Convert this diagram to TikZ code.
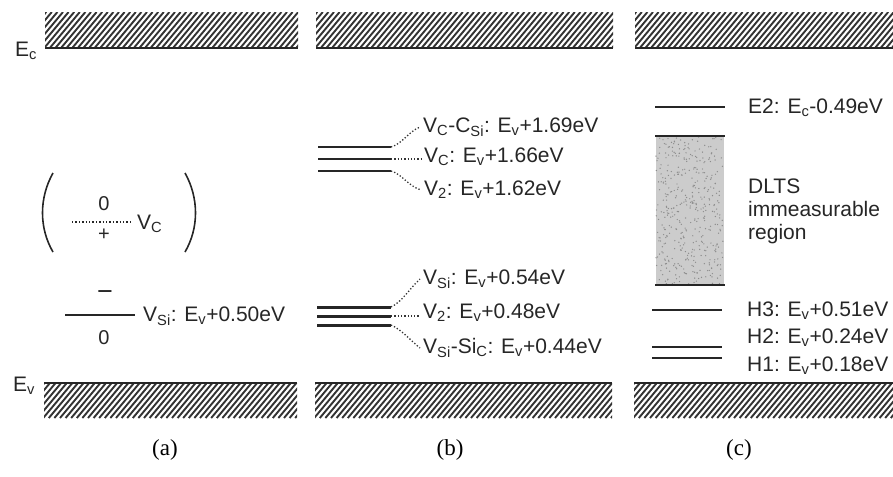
\documentclass[tikz,border=0pt]{standalone}
\usepackage{fontspec}
\setmainfont{Liberation Sans}
\newfontfamily\capfont{Liberation Serif}
\newcommand\myhatch[4]{%
  \begin{scope}
    \clip (#1,#2) rectangle (#3,#4);
    \foreach \k in {0,...,62} {\draw[hatchline] ({#1-40+\k*5.6},#4) -- ++(30,-36);}
  \end{scope}}
\begin{document}
\begin{tikzpicture}[x=1pt,y=-1pt,
  hatchline/.style={line width=1.9pt,black!80},
  edge/.style={line width=2.2pt,black!85},
  lbl/.style={font=\fontsize{21}{23}\selectfont,inner sep=0pt,anchor=west,black!85},
  sym/.style={font=\fontsize{20}{21}\selectfont,inner sep=0pt,black!85},
  captext/.style={font=\capfont\fontsize{23}{24}\selectfont,inner sep=0pt},
  lev/.style={line width=2.6pt,black!85},
  conn/.style={dotted,line width=1.3pt,black!80}]
\useasboundingbox (0,0) rectangle (893,476);
% ---- bands
\myhatch{45}{13}{298}{48}
\myhatch{316}{13}{613}{48}
\myhatch{635}{13}{893}{48}
\draw[edge] (45,48) -- (298,48);
\draw[edge] (316,48) -- (613,48);
\draw[edge] (635,48) -- (893,48);
\myhatch{44}{383}{297}{418}
\myhatch{315}{383}{612}{418}
\myhatch{634}{383}{893}{418}
\draw[edge] (44,383) -- (297,383);
\draw[edge] (315,383) -- (612,383);
\draw[edge] (634,383) -- (893,383);
\node[lbl,anchor=center] (Ec) at (26,51) {E\textsubscript{c}};
\node[lbl,anchor=center] (Ev) at (24,386) {E\textsubscript{v}};
% ---- panel (a)
\draw[line width=1.6pt,black!85] (53,173) .. controls (39,198) and (39,228) .. (53,252);
\draw[line width=1.6pt,black!85] (185,173) .. controls (199,198) and (199,228) .. (185,252);
\coordinate (vcL) at (72,222);
\coordinate (vcR) at (133,222);
\draw[dotted,line width=1.4pt,black!85] (vcL) -- (vcR);
\node[sym] (vc0) at (104,204) {0};
\node[sym] (vcp) at (104,235) {+};
\node[lbl] (vcl) at (137,224) {V\textsubscript{C}};
\coordinate (vsL) at (65,315);
\coordinate (vsR) at (135,315);
\draw[lev] (vsL) -- (vsR);
\node[sym,font=\fontsize{27}{28}\selectfont] (vsm) at (105,296) {−};
\node[sym] (vs0) at (104,338) {0};
\node[lbl] (vsl) at (143,316) {V\textsubscript{Si}: E\textsubscript{v}+0.50eV};
% ---- panel (b) upper
\foreach \n/\y in {u1/147,u2/159,u3/171}{
  \coordinate (\n L) at (318,\y);
  \coordinate (\n R) at (391,\y);
  \draw[lev] (\n L) -- (\n R);}
\node[lbl] (bu1) at (423,127) {V\textsubscript{C}-C\textsubscript{Si}: E\textsubscript{v}+1.69eV};
\node[lbl] (bu2) at (424,157) {V\textsubscript{C}: E\textsubscript{v}+1.66eV};
\node[lbl] (bu3) at (424,190) {V\textsubscript{2}: E\textsubscript{v}+1.62eV};
\draw[conn] (u1R) .. controls (402,144) and (408,132) .. ([xshift=-3pt]bu1.west);
\draw[conn] (u2R) -- ([xshift=-3pt]bu2.west |- u2R);
\draw[conn] (u3R) .. controls (402,174) and (408,186) .. ([xshift=-3pt]bu3.west);
% ---- panel (b) lower
\foreach \n/\y in {l1/307,l2/316,l3/325}{
  \coordinate (\n L) at (317,\y);
  \coordinate (\n R) at (391,\y);
  \draw[lev,line width=3pt] (\n L) -- (\n R);}
\node[lbl] (bl1) at (423,279) {V\textsubscript{Si}: E\textsubscript{v}+0.54eV};
\node[lbl] (bl2) at (423,313) {V\textsubscript{2}: E\textsubscript{v}+0.48eV};
\node[lbl] (bl3) at (423,348) {V\textsubscript{Si}-Si\textsubscript{C}: E\textsubscript{v}+0.44eV};
\draw[conn] (l1R) .. controls (402,302) and (410,288) .. ([xshift=-3pt]bl1.west);
\draw[conn] (l2R) -- ([xshift=-3pt]bl2.west |- l2R);
\draw[conn] (l3R) .. controls (402,330) and (410,340) .. ([xshift=-3pt]bl3.west);
% ---- panel (c)
\coordinate (e2L) at (655,107);
\coordinate (e2R) at (725,107);
\draw[lev,line width=2pt] (e2L) -- (e2R);
\node[lbl] (e2l) at (748,108) {E2: E\textsubscript{c}-0.49eV};
\fill[black!20] (656,136) rectangle (724,285);
\pgfmathsetseed{7}
\foreach \d in {1,...,420}{
  \fill[black!45] ({656+rnd*67},{137+rnd*147}) circle (0.7);}
\draw[lev,line width=2pt] (655,136) -- (725,136);
\draw[lev,line width=1.6pt] (655,285) -- (725,285);
\node[lbl,align=left,font=\fontsize{21}{23}\selectfont] (dlts) at (748,211) {DLTS\\immeasurable\\region};
\coordinate (h3L) at (652,310);
\coordinate (h3R) at (722,310);
\draw[lev,line width=2.8pt] (h3L) -- (h3R);
\node[lbl] (h3l) at (747,311) {H3: E\textsubscript{v}+0.51eV};
\coordinate (h2L) at (652,347);
\coordinate (h2R) at (722,347);
\draw[lev,line width=2pt] (h2L) -- (h2R);
\coordinate (h1L) at (652,358);
\coordinate (h1R) at (722,358);
\draw[lev,line width=2pt] (h1L) -- (h1R);
\node[lbl] (h2l) at (747,338) {H2: E\textsubscript{v}+0.24eV};
\node[lbl] (h1l) at (747,366) {H1: E\textsubscript{v}+0.18eV};
% ---- captions
\node[captext] (ca) at (165,450) {(a)};
\node[captext] (cb) at (450,450) {(b)};
\node[captext] (cc) at (739,450) {(c)};
\end{tikzpicture}
\end{document}
